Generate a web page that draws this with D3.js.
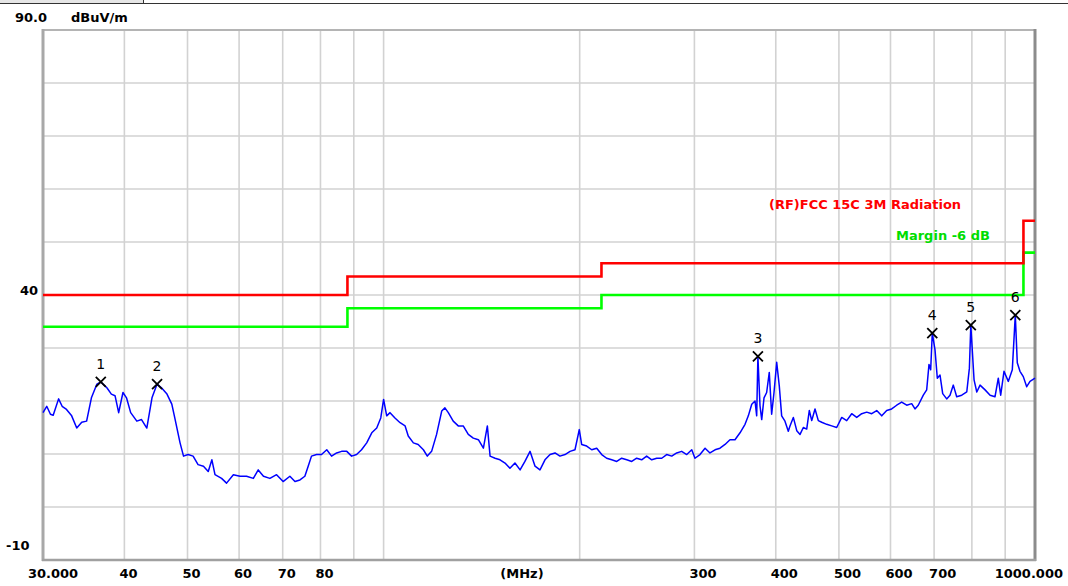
<!DOCTYPE html>
<html>
<head>
<meta charset="utf-8">
<script src="https://cdn.jsdelivr.net/npm/d3@7"></script>
<style>
  body { margin: 0; background: #fff; }
  svg { display: block; }
  text { font-family: "DejaVu Sans", sans-serif; }
  .tick-label { font-size: 13px; font-weight: bold; fill: #000; }
  .legend { font-size: 13px; font-weight: bold; }
  .mark-label { font-size: 14px; fill: #000; }
</style>
</head>
<body>
<svg width="1068" height="586"></svg>
<script>
// scan trace (MHz, dBuV/m)
const freqMHz = [30.0, 30.4, 30.8, 31.1, 31.7, 32.1, 32.6, 33.2, 33.8, 34.4, 35.0, 35.6, 36.3, 36.8, 37.6, 38.2, 38.7, 39.2, 39.8,
  40.3, 40.9, 41.8, 42.5, 43.3, 44.1, 44.9, 45.6, 46.5, 47.3, 47.8, 48.7, 49.3, 50.1, 51.0, 51.9, 52.9, 53.8, 54.5, 55.1,
  56.4, 57.4, 58.8, 60.2, 61.6, 63.1, 64.2, 65.4, 66.9, 68.5, 70.1, 71.8, 73.1, 74.4, 75.7, 76.6, 77.5, 78.9, 80.3, 81.8,
  83.2, 84.7, 86.2, 87.8, 89.3, 90.9, 92.5, 94.2, 95.9, 97.6, 99.0, 100, 101.1, 102.3, 104.1, 106.0, 107.9, 109.1, 111.1,
  113.0, 115.1, 116.7, 118.5, 120.6, 122.8, 124.2, 125.7, 127.9, 130.2, 132.5, 134.9, 137.3, 139.8, 142.3, 144.3, 145.7,
  148.3, 150.9, 153.6, 156.3, 159.1, 162.0, 164.8, 167.8, 170.8, 173.8, 176.9, 180.1, 183.3, 186.5, 189.9, 193.3, 196.7,
  199.7, 201.4, 205.0, 208.7, 212.4, 216.2, 220.0, 224.0, 228.0, 232.0, 236.2, 240.4, 244.6, 249.0, 253.4, 258.0, 262.6,
  267.3, 272.0, 276.9, 281.8, 286.8, 292.0, 297.2, 300.6, 306.0, 311.5, 317.0, 322.7, 328.4, 334.3, 340.2, 346.3, 352.5,
  358.8, 363.0, 367.4, 371.7, 373.9, 375.5, 378.3, 380.6, 383.7, 387.3, 390.9, 394.2, 397.5, 401.3, 405.0, 408.4, 413.2,
  418.1, 420.6, 425.6, 430.8, 435.8, 440.9, 446.2, 450.3, 454.2, 459.5, 464.9, 470.5, 478.9, 487.4, 496.1, 505.0, 514.0,
  523.1, 532.5, 542.0, 551.6, 561.5, 571.5, 581.7, 592.0, 602.5, 613.3, 624.2, 635.4, 646.7, 654.3, 661.9, 673.8, 681.9,
  687.5, 691.6, 695.5, 702.2, 708.0, 714.8, 721.6, 731.9, 740.5, 749.2, 758.2, 771.9, 785.7, 793.0, 797.0, 806.2, 814.0,
  823.5, 838.2, 853.2, 868.1, 878.3, 885.8, 896.2, 909.9, 922.9, 932.7, 939.3, 948.3, 959.5, 971.1, 982.5, 1000];
const levelDb = [17.8, 19.0, 17.5, 17.3, 20.4, 19.0, 18.4, 17.2, 14.9, 16.0, 16.2, 20.6, 23.2, 23.6, 22.5, 21.3, 21.0, 17.8, 21.6,
  20.6, 17.8, 16.2, 16.5, 14.9, 20.6, 23.2, 22.5, 21.3, 19.4, 16.8, 12.1, 9.6, 9.9, 9.6, 8.0, 7.7, 6.7, 8.9, 6.1,
  5.4, 4.5, 6.1, 5.8, 5.8, 5.4, 7.0, 5.8, 5.4, 6.1, 4.8, 5.8, 4.8, 5.1, 5.8, 7.7, 9.6, 9.9, 9.9, 10.8,
  9.6, 10.2, 10.5, 10.5, 9.6, 9.9, 10.8, 12.1, 14.0, 14.9, 16.8, 20.3, 17.2, 17.8, 16.8, 15.9, 15.3, 13.4, 12.1,
  11.8, 10.8, 9.6, 10.5, 13.7, 18.1, 18.7, 17.8, 16.2, 15.3, 15.3, 13.7, 13.0, 12.7, 11.1, 15.3, 9.6,
  9.2, 8.9, 8.3, 7.3, 8.3, 7.0, 8.6, 10.5, 7.7, 7.0, 8.9, 9.9, 10.2, 9.6, 9.9, 10.5, 10.8,
  14.6, 11.8, 11.5, 10.8, 11.1, 9.9, 9.2, 8.9, 8.6, 9.2, 8.9, 8.6, 9.2, 8.9, 9.6, 8.9, 9.2,
  9.2, 9.9, 9.6, 10.2, 10.5, 9.9, 10.8, 9.2, 9.9, 11.1, 10.2, 10.8, 11.1, 11.8, 12.7, 12.7, 14.0,
  15.6, 17.2, 19.4, 20.0, 17.2, 28.4, 19.1, 16.5, 20.6, 21.6, 25.4, 17.5, 21.6, 27.3, 22.8, 17.2, 16.2,
  14.3, 15.3, 16.9, 14.4, 13.7, 15.0, 14.7, 18.2, 16.3, 18.5, 16.3, 16.0, 15.6, 15.3, 15.0, 16.9, 16.3,
  17.6, 16.9, 17.6, 17.9, 17.6, 18.2, 17.2, 18.2, 18.5, 19.2, 19.8, 19.2, 19.5, 18.5, 19.2, 21.1, 22.1,
  26.9, 25.9, 32.8, 29.7, 24.3, 24.9, 21.4, 20.4, 21.1, 23.0, 20.8, 21.1, 21.7, 26.2, 34.3, 24.0, 21.7,
  23.0, 22.1, 21.1, 20.8, 24.3, 21.1, 25.6, 23.7, 25.9, 36.2, 27.2, 25.6, 24.6, 22.7, 23.7, 24.3];

// FCC 15C 3m limit and the -6 dB margin, as steps
const limitFreq = [30, 88, 216, 960, 1000];
const limitDb = [40, 43.5, 46, 54, 54];
const marginDb = [34, 37.5, 40, 48, 48];

// peak markers
const markerNo = [1, 2, 3, 4, 5, 6];
const markerFreq = [36.8, 44.9, 375.5, 695.5, 797.0, 932.7];
const markerDb = [23.6, 23.2, 28.4, 32.8, 34.3, 36.2];

const gridFreq = [40, 50, 60, 70, 80, 90, 100, 200, 300, 400, 500, 600, 700, 800, 900];
const xTickFreq = [40, 50, 60, 70, 80, 300, 400, 500, 600, 700];
const gridDb = [0, 10, 20, 30, 40, 50, 60, 70, 80];

const plotLeft = 43, plotRight = 1035, plotTop = 30, plotBottom = 560;

const svg = d3.select('svg');

const x = d3.scaleLog().domain([30, 1000]).range([plotLeft, plotRight]);
const y = d3.scaleLinear().domain([-10, 90]).range([plotBottom, plotTop]);

// window strip at the very top
svg.append('rect').attr('x', 0).attr('y', 0).attr('width', 143).attr('height', 3).attr('fill', '#e6e6e6');
svg.append('line').attr('x1', 0).attr('x2', 1068).attr('y1', 3.5).attr('y2', 3.5).attr('stroke', '#333');
svg.append('line').attr('x1', 143.5).attr('x2', 143.5).attr('y1', 0).attr('y2', 3).attr('stroke', '#333');

// grid
const grid = svg.append('g');
grid.selectAll('.vg')
  .data(gridFreq)
  .enter()
  .append('line')
  .attr('x1', d => x(d)).attr('x2', d => x(d))
  .attr('y1', plotTop).attr('y2', plotBottom)
  .attr('stroke', '#d2d2d2').attr('stroke-width', 1.6);
grid.selectAll('.hg')
  .data(gridDb)
  .enter()
  .append('line')
  .attr('x1', plotLeft).attr('x2', plotRight)
  .attr('y1', d => y(d)).attr('y2', d => y(d))
  .attr('stroke', '#d2d2d2').attr('stroke-width', 1.6);

// frame
svg.append('line').attr('x1', plotLeft).attr('x2', plotRight).attr('y1', plotTop).attr('y2', plotTop)
  .attr('stroke', '#b4b4b4').attr('stroke-width', 2);
svg.append('line').attr('x1', plotRight).attr('x2', plotRight).attr('y1', plotTop - 1).attr('y2', plotBottom + 1)
  .attr('stroke', '#8c8c8c').attr('stroke-width', 3);
svg.append('line').attr('x1', plotLeft).attr('x2', plotLeft).attr('y1', plotTop - 1).attr('y2', plotBottom + 1)
  .attr('stroke', '#a8a8a8').attr('stroke-width', 3);
svg.append('line').attr('x1', plotLeft - 1).attr('x2', plotRight + 1).attr('y1', plotBottom).attr('y2', plotBottom)
  .attr('stroke', '#a0a0a0').attr('stroke-width', 2.5);

// limit lines
const stepLine = d3.line()
  .x(d => x(d[0]))
  .y(d => y(d[1]))
  .curve(d3.curveStepAfter);

svg.append('path')
  .datum(limitFreq.map((f, i) => [f, marginDb[i]]))
  .attr('d', stepLine)
  .attr('fill', 'none')
  .attr('stroke', '#00ff00')
  .attr('stroke-width', 2.6);

svg.append('path')
  .datum(limitFreq.map((f, i) => [f, limitDb[i]]))
  .attr('d', stepLine)
  .attr('fill', 'none')
  .attr('stroke', '#ff0000')
  .attr('stroke-width', 2.6);

// trace
const trace = d3.line()
  .x(d => x(d[0]))
  .y(d => y(d[1]));

svg.append('path')
  .datum(freqMHz.map((f, i) => [f, levelDb[i]]))
  .attr('d', trace)
  .attr('fill', 'none')
  .attr('stroke', '#0000ff')
  .attr('stroke-width', 1.5)
  .attr('stroke-linejoin', 'round');

// markers
const marks = svg.selectAll('.mark')
  .data(markerNo)
  .enter()
  .append('g')
  .attr('transform', (d, i) => `translate(${x(markerFreq[i])}, ${y(markerDb[i])})`);

marks.append('path')
  .attr('d', 'M-5,-5L5,5M-5,5L5,-5')
  .attr('stroke', '#000')
  .attr('stroke-width', 1.8);

marks.append('text')
  .attr('class', 'mark-label')
  .attr('y', -13)
  .attr('text-anchor', 'middle')
  .text(d => d);

// legend
svg.append('text')
  .attr('class', 'legend')
  .attr('x', 769).attr('y', 209)
  .attr('fill', '#ff0000')
  .text('(RF)FCC 15C 3M Radiation');
svg.append('text')
  .attr('class', 'legend')
  .attr('x', 896).attr('y', 240)
  .attr('fill', '#00dd00')
  .text('Margin -6 dB');

// axis labels
svg.append('text').attr('class', 'tick-label').attr('x', 15).attr('y', 22).text('90.0');
svg.append('text').attr('class', 'tick-label').attr('x', 71).attr('y', 22).text('dBuV/m');
svg.append('text').attr('class', 'tick-label').attr('x', 38).attr('y', y(40) - 0.5)
  .attr('text-anchor', 'end').text('40');
svg.append('text').attr('class', 'tick-label').attr('x', 29.5).attr('y', y(-10) - 10.5)
  .attr('text-anchor', 'end').text('-10');

svg.selectAll('.xt')
  .data(xTickFreq)
  .enter()
  .append('text')
  .attr('class', 'tick-label')
  .attr('x', d => x(d) - 5)
  .attr('y', 578)
  .text(d => d);

svg.append('text').attr('class', 'tick-label').attr('x', 28).attr('y', 578).text('30.000');
svg.append('text').attr('class', 'tick-label').attr('x', 1063).attr('y', 578)
  .attr('text-anchor', 'end').text('1000.000');
svg.append('text').attr('class', 'tick-label').attr('x', 522).attr('y', 578)
  .attr('text-anchor', 'middle').text('(MHz)');
</script>
</body>
</html>
